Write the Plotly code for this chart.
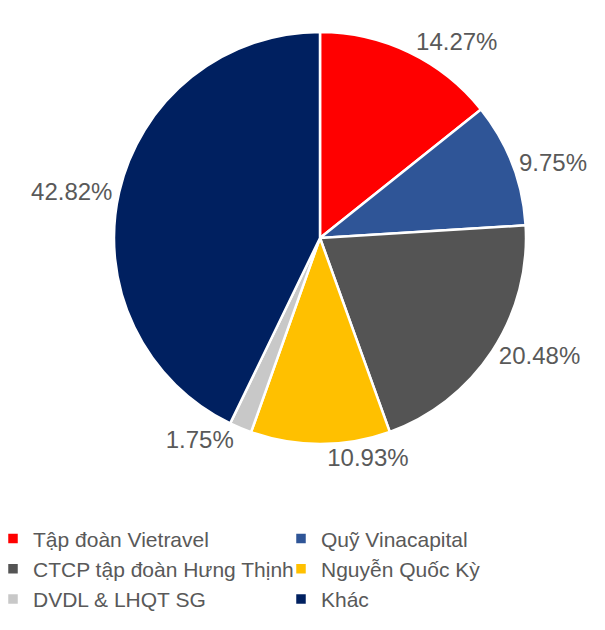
import plotly.graph_objects as go

labels = ["Tập đoàn Vietravel", "Quỹ Vinacapital", "CTCP tập đoàn Hưng Thịnh",
          "Nguyễn Quốc Kỳ", "DVDL & LHQT SG", "Khác"]
shares = [14.27, 9.75, 20.48, 10.93, 1.75, 42.82]
colors = ["#FF0000", "#2F5597", "#545454", "#FFC000", "#C8C8C8", "#002060"]

fig = go.Figure()
fig.add_trace(go.Pie(
    labels=labels, values=shares,
    sort=False, direction="clockwise", rotation=0,
    marker=dict(colors=colors, line=dict(color="white", width=2.5)),
    texttemplate="%{value:.2f}%",
    textposition="outside",
    textfont=dict(size=24, color="#595959"),
    hoverinfo="label+value",
    domain=dict(x=[0.1752, 0.8562], y=[0.3079, 0.9619]),
))

fig.update_layout(
    width=605, height=630,
    margin=dict(l=0, r=0, t=0, b=0),
    paper_bgcolor="white",
    font=dict(family="Liberation Sans, Arial, sans-serif", color="#595959"),
    showlegend=True,
    legend=dict(
        orientation="h", x=0, xanchor="left", y=0.19, yanchor="top",
        entrywidth=258, entrywidthmode="pixels", itemwidth=30, indentation=-15,
        font=dict(size=21, color="#595959"),
    ),
)

fig.write_html("out.html")
